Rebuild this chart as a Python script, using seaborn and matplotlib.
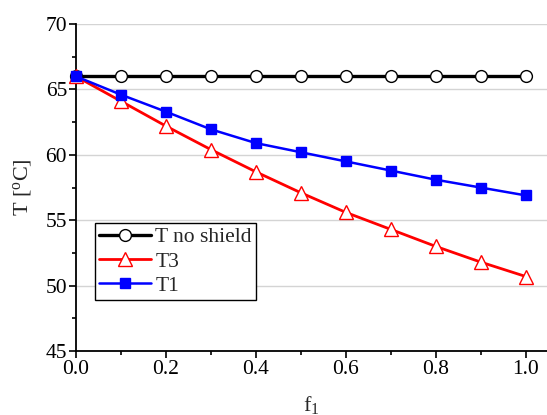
import numpy as np
import pandas as pd
import matplotlib
matplotlib.use("Agg")
import matplotlib.pyplot as plt
import seaborn as sns
from matplotlib.ticker import MultipleLocator

f1 = [0.0, 0.1, 0.2, 0.3, 0.4, 0.5, 0.6, 0.7, 0.8, 0.9, 1.0]
t_no_shield = [66.0, 66.0, 66.0, 66.0, 66.0, 66.0, 66.0, 66.0, 66.0, 66.0, 66.0]
t3 = [66.0, 64.1, 62.2, 60.4, 58.7, 57.1, 55.6, 54.3, 53.0, 51.8, 50.7]
t1 = [66.0, 64.6, 63.3, 61.95, 60.9, 60.2, 59.5, 58.8, 58.1, 57.5, 56.9]
series_names = ["T no shield", "T3", "T1"]

sns.set_style("ticks")
plt.rcParams['font.family'] = ['Liberation Serif', 'DejaVu Serif']
plt.rcParams['mathtext.fontset'] = 'custom'
plt.rcParams['mathtext.rm'] = 'Liberation Serif'
plt.rcParams['mathtext.it'] = 'Liberation Serif'

fig = plt.figure(figsize=(5.47, 4.15), dpi=100)
ax = fig.add_axes([0.139, 0.154, 0.861, 0.788])

ax.yaxis.grid(True, color="#d4d4d4", linewidth=1.0)
ax.set_axisbelow(True)

df = pd.DataFrame({"f1": f1, series_names[0]: t_no_shield,
                   series_names[1]: t3, series_names[2]: t1})

sns.lineplot(data=df, x="f1", y=series_names[0], ax=ax, color="black",
             linewidth=2.4, marker="o", markersize=8.5, markerfacecolor="white",
             markeredgecolor="black", markeredgewidth=1.0, label=series_names[0],
             clip_on=False, zorder=3)
sns.lineplot(data=df, x="f1", y=series_names[1], ax=ax, color="red",
             linewidth=2.0, marker="^", markersize=10, markerfacecolor="white",
             markeredgecolor="red", markeredgewidth=1.0, label=series_names[1],
             clip_on=False, zorder=4)
sns.lineplot(data=df, x="f1", y=series_names[2], ax=ax, color="blue",
             linewidth=1.8, marker="s", markersize=6.5, markerfacecolor="blue",
             markeredgecolor="blue", markeredgewidth=1.0, label=series_names[2],
             clip_on=False, zorder=5)

ax.set_xlim(0, 1.047)
ax.set_ylim(45, 70)
ax.xaxis.set_minor_locator(MultipleLocator(0.1))
ax.yaxis.set_major_locator(MultipleLocator(5))
ax.yaxis.set_minor_locator(MultipleLocator(2.5))
ax.set_xticks([0.0, 0.2, 0.4, 0.6, 0.8, 1.0])
ax.set_xticklabels(["0.0", "0.2", "0.4", "0.6", "0.8", "1.0"])
ax.tick_params(axis="both", which="major", direction="out", length=5, width=1.2,
               labelsize=15.5, color="black", labelcolor="black", pad=1.5)
ax.tick_params(axis="both", which="minor", direction="out", length=3, width=1.2,
               color="black")

for s in ["top", "right"]:
    ax.spines[s].set_visible(False)
for s in ["left", "bottom"]:
    ax.spines[s].set_color("black")
    ax.spines[s].set_linewidth(1.3)

ax.set_xlabel(r"f$_\mathregular{1}$", fontsize=16, labelpad=11)
ax.set_ylabel(r"T [$^\mathregular{o}$C]", fontsize=16, labelpad=8)

leg = ax.legend(loc="upper left", bbox_to_anchor=(0.04, 0.392), fontsize=15.5,
                frameon=True, fancybox=False, edgecolor="black",
                handlelength=2.4, handletextpad=0.2, borderpad=0.2,
                labelspacing=0.2, borderaxespad=0)
leg.get_frame().set_linewidth(1.0)
leg.get_frame().set_alpha(1.0)

fig.savefig("out.png", dpi=100)
